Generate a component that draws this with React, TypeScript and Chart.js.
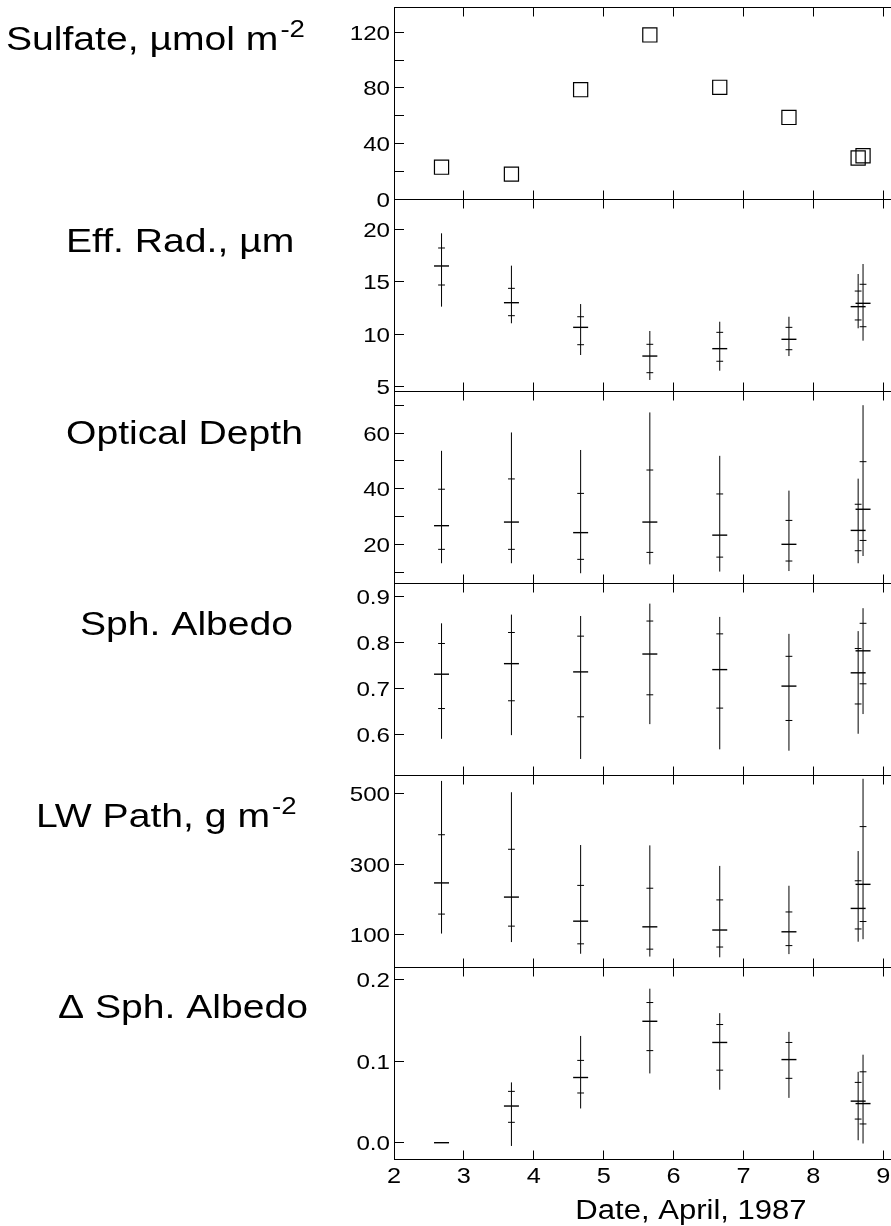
import { useEffect, useRef } from 'react';
import { Chart, registerables } from 'chart.js';

Chart.register(...registerables);

// Sampling times (day of April 1987)
const days = [2.68, 3.68, 4.67, 5.66, 6.66, 7.65, 8.64, 8.71];

// Sulfate column, µmol m-2
const sulfate = [22.9, 17.9, 78.7, 118.1, 80.4, 58.7, 29.5, 31.1];

// Effective radius, µm
const effRadMid = [16.54, 13.01, 10.64, 7.88, 8.59, 9.49, 12.63, 12.95];
const effRadInnerLo = [14.71, 11.76, 8.97, 6.28, 7.38, 8.49, 11.35, 10.7];
const effRadInnerHi = [18.27, 14.39, 11.66, 9.01, 10.16, 10.64, 14.13, 14.78];
const effRadLo = [12.63, 11.03, 7.98, 5.58, 6.47, 7.88, 10.55, 9.36];
const effRadHi = [19.68, 16.57, 12.88, 10.29, 11.18, 11.66, 15.77, 16.73];

// Optical depth
const tauMid = [26.7, 28.0, 24.2, 28.0, 23.3, 20.0, 25.0, 32.6];
const tauInnerLo = [18.2, 18.2, 14.6, 17.1, 15.4, 14.0, 17.7, 21.4];
const tauInnerHi = [39.8, 43.5, 38.3, 46.7, 38.1, 28.6, 34.4, 49.7];
const tauLo = [13.2, 13.2, 9.6, 12.8, 10.2, 10.4, 13.2, 15.8];
const tauHi = [53.6, 60.2, 53.9, 67.4, 51.8, 39.3, 43.6, 70.0];

// Spherical albedo
const albMid = [0.731, 0.754, 0.736, 0.775, 0.741, 0.705, 0.734, 0.782];
const albInnerLo = [0.656, 0.673, 0.638, 0.686, 0.657, 0.63, 0.666, 0.71];
const albInnerHi = [0.798, 0.822, 0.814, 0.847, 0.819, 0.77, 0.787, 0.842];
const albLo = [0.59, 0.598, 0.546, 0.622, 0.567, 0.564, 0.601, 0.644];
const albHi = [0.842, 0.861, 0.858, 0.885, 0.856, 0.819, 0.825, 0.875];

// Liquid water path, g m-2
const lwpMid = [247, 207, 139, 123, 114, 109, 175, 243];
const lwpInnerLo = [159, 125, 75, 60, 66, 70, 117, 138];
const lwpInnerHi = [383, 342, 240, 232, 199, 165, 253, 406];
const lwpLo = [104, 80, 47, 39, 37, 46, 81, 88];
const lwpHi = [535, 503, 354, 353, 295, 239, 337, 541];

// Change in spherical albedo (first day is the reference, no spread)
const dAlbMid = [0.0, 0.045, 0.08, 0.149, 0.123, 0.102, 0.051, 0.048];
const dAlbInnerLo = [null, 0.025, 0.061, 0.113, 0.089, 0.079, 0.029, 0.023];
const dAlbInnerHi = [null, 0.063, 0.101, 0.172, 0.145, 0.123, 0.074, 0.087];
const dAlbLo = [null, -0.004, 0.042, 0.085, 0.065, 0.055, 0.003, -0.001];
const dAlbHi = [null, 0.074, 0.131, 0.189, 0.159, 0.136, 0.087, 0.108];

// Tick labels
const xTickLabels = ['2', '3', '4', '5', '6', '7', '8', '9'];
const sulfateTicks = ['0', '40', '80', '120'];
const sulfateMinor = [20, 60, 100];
const effRadTicks = ['5', '10', '15', '20'];
const tauTicks = ['20', '40', '60'];
const tauMinor = [10, 30, 50, 70];
const albTicks = ['0.6', '0.7', '0.8', '0.9'];
const lwpTicks = ['100', '300', '500'];
const dAlbTicks = ['0.0', '0.1', '0.2'];

const xTitle = 'Date, April, 1987';

const INK = '#000';
const FONT = '"Liberation Sans", Arial, Helvetica, sans-serif';
const STRETCH = 1.15;

type Panel = {
  id: string;
  min: number;
  max: number;
  ticks: string[];
  minor: number[];
  title: string;
  sup?: string;
  titleX: number;
  titleDy: number;
};

// Panels listed top to bottom
const panels: Panel[] = [
  { id: 'ySulf', min: 0, max: 138.2, ticks: sulfateTicks, minor: sulfateMinor, title: 'Sulfate, \u00b5mol m', sup: '-2', titleX: 6, titleDy: 43 },
  { id: 'yRad', min: 4.52, max: 22.98, ticks: effRadTicks, minor: [], title: 'Eff. Rad., \u00b5m', titleX: 66, titleDy: 53 },
  { id: 'yTau', min: 6.1, max: 75.1, ticks: tauTicks, minor: tauMinor, title: 'Optical Depth', titleX: 66, titleDy: 53 },
  { id: 'yAlb', min: 0.511, max: 0.93, ticks: albTicks, minor: [], title: 'Sph. Albedo', titleX: 80, titleDy: 52 },
  { id: 'yLwp', min: 9.6, max: 551.7, ticks: lwpTicks, minor: [], title: 'LW Path, g m', sup: '-2', titleX: 36, titleDy: 52 },
  { id: 'yDAlb', min: -0.02, max: 0.2156, ticks: dAlbTicks, minor: [], title: '\u0394 Sph. Albedo', titleX: 58, titleDy: 51 },
];

function errorDatasets(
  yAxisID: string,
  mid: number[],
  innerLo: (number | null)[],
  innerHi: (number | null)[],
  lo: (number | null)[],
  hi: (number | null)[],
) {
  const range: { x: number; y: number | null }[] = [];
  const inner: { x: number; y: number }[] = [];
  days.forEach((d, i) => {
    const l = lo[i];
    const h = hi[i];
    if (l != null && h != null) {
      range.push({ x: d, y: l }, { x: d, y: h }, { x: d, y: null });
    }
    const il = innerLo[i];
    const ih = innerHi[i];
    if (il != null) inner.push({ x: d, y: il });
    if (ih != null) inner.push({ x: d, y: ih });
  });
  const centre = days.map((d, i) => ({ x: d, y: mid[i] }));
  return [
    {
      type: 'line' as const,
      yAxisID,
      data: range,
      borderColor: INK,
      borderWidth: 1,
      pointRadius: 0,
      spanGaps: false,
      fill: false,
      tension: 0,
    },
    {
      type: 'scatter' as const,
      yAxisID,
      data: inner,
      pointStyle: 'line' as const,
      pointRadius: 3.4,
      pointBorderColor: INK,
      pointBorderWidth: 1,
    },
    {
      type: 'scatter' as const,
      yAxisID,
      data: centre,
      pointStyle: 'line' as const,
      pointRadius: 7.5,
      pointBorderColor: INK,
      pointBorderWidth: 1.4,
    },
  ];
}

function drawText(
  ctx: CanvasRenderingContext2D,
  text: string,
  x: number,
  y: number,
  size: number,
  align: 'left' | 'right' | 'center',
) {
  ctx.font = `${size}px ${FONT}`;
  const w = ctx.measureText(text).width * STRETCH;
  const left = align === 'right' ? x - w : align === 'center' ? x - w / 2 : x;
  ctx.save();
  ctx.translate(left, y);
  ctx.scale(STRETCH, 1);
  ctx.textAlign = 'left';
  ctx.textBaseline = 'alphabetic';
  ctx.fillStyle = INK;
  ctx.fillText(text, 0, 0);
  ctx.restore();
  return w;
}

const crisp = (v: number) => Math.round(v - 0.5) + 0.5;

const framePlugin = {
  id: 'panelFrame',
  afterDatasetsDraw(chart: any) {
    const ctx: CanvasRenderingContext2D = chart.ctx;
    const area = chart.chartArea;
    const xs = chart.scales.x;
    const seg = (x1: number, y1: number, x2: number, y2: number) => {
      ctx.beginPath();
      ctx.moveTo(x1, y1);
      ctx.lineTo(x2, y2);
      ctx.stroke();
    };
    ctx.save();
    ctx.strokeStyle = INK;
    ctx.lineWidth = 1;
    const left = crisp(area.left);
    seg(left, area.top, left, area.bottom);

    const xTicks = xTickLabels.map(Number);
    panels.forEach((p) => {
      const s = chart.scales[p.id];
      const top = crisp(s.top);
      const bottom = crisp(s.bottom);
      seg(area.left, top, area.right, top);
      seg(area.left, bottom, area.right, bottom);
      xTicks.forEach((v) => {
        const px = crisp(xs.getPixelForValue(v));
        seg(px, top, px, top + 9);
        seg(px, bottom - 9, px, bottom);
      });
      const major = p.ticks.map(Number);
      [...major, ...p.minor].forEach((v) => {
        const py = crisp(s.getPixelForValue(v));
        seg(area.left, py, area.left + 10, py);
      });
      p.ticks.forEach((label) => {
        const py = s.getPixelForValue(Number(label));
        drawText(ctx, label, area.left - 4, py + 7.5, 21, 'right');
      });
      const ty = s.top + p.titleDy;
      const w = drawText(ctx, p.title, p.titleX, ty, 34, 'left');
      if (p.sup) drawText(ctx, p.sup, p.titleX + w + 2, ty - 13, 24, 'left');
    });

    xTickLabels.forEach((label) => {
      const px = xs.getPixelForValue(Number(label));
      drawText(ctx, label, px, area.bottom + 24, 22, 'center');
    });
    drawText(ctx, xTitle, 691, area.bottom + 60, 27, 'center');
    ctx.restore();
  },
};

export default function App() {
  const ref = useRef<HTMLCanvasElement>(null);

  useEffect(() => {
    const canvas = ref.current;
    if (!canvas) return;

    const datasets: any[] = [
      {
        type: 'scatter',
        yAxisID: 'ySulf',
        data: days.map((d, i) => ({ x: d, y: sulfate[i] })),
        pointStyle: 'rect',
        pointRadius: 10,
        pointBorderColor: INK,
        pointBackgroundColor: 'rgba(0,0,0,0)',
        pointBorderWidth: 1.2,
      },
      ...errorDatasets('yRad', effRadMid, effRadInnerLo, effRadInnerHi, effRadLo, effRadHi),
      ...errorDatasets('yTau', tauMid, tauInnerLo, tauInnerHi, tauLo, tauHi),
      ...errorDatasets('yAlb', albMid, albInnerLo, albInnerHi, albLo, albHi),
      ...errorDatasets('yLwp', lwpMid, lwpInnerLo, lwpInnerHi, lwpLo, lwpHi),
      ...errorDatasets('yDAlb', dAlbMid, dAlbInnerLo, dAlbInnerHi, dAlbLo, dAlbHi),
    ];

    // Stacked left axes: later scales with higher weight are placed at the top
    const scales: any = {
      x: { type: 'linear', min: 2, max: 9.11, display: false },
    };
    [...panels].reverse().forEach((p, i) => {
      scales[p.id] = {
        type: 'linear',
        position: 'left',
        stack: 'panels',
        stackWeight: 1,
        weight: i + 1,
        min: p.min,
        max: p.max,
        display: false,
      };
    });

    const chart = new Chart(canvas, {
      type: 'scatter',
      data: { datasets },
      options: {
        responsive: false,
        animation: false,
        events: [],
        layout: { autoPadding: false, padding: { left: 394, right: 0, top: 7, bottom: 67 } },
        scales,
        plugins: {
          legend: { display: false },
          tooltip: { enabled: false },
        },
      },
      plugins: [framePlugin],
    });

    return () => chart.destroy();
  }, []);

  return (
    <div
      style={{
        position: 'absolute',
        left: 0,
        top: 0,
        width: 891,
        height: 1226,
        overflow: 'hidden',
        background: '#fff',
      }}
    >
      <canvas ref={ref} width={891} height={1226} style={{ display: 'block', width: 891, height: 1226 }} />
    </div>
  );
}
